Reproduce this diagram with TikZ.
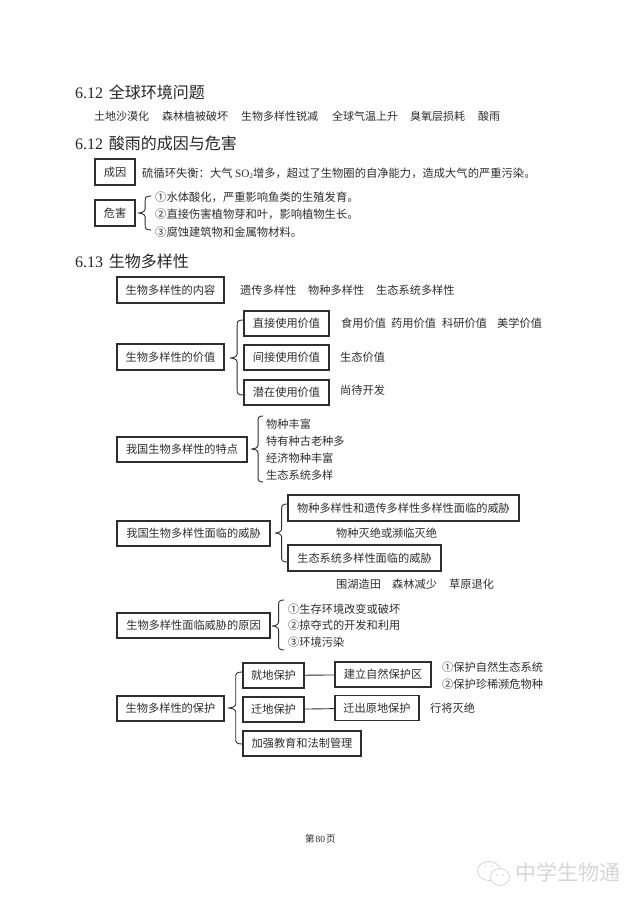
\documentclass[tikz,border=0pt]{standalone}
\usepackage{fontspec}
\setmainfont{Noto Sans CJK SC}
\newfontfamily\lat{Liberation Serif}
\definecolor{ink}{gray}{0.18}
\definecolor{wm}{gray}{0.84}
\newcommand{\sz}[1]{\fontsize{#1}{#1}\selectfont}
% \curly{tip x}{mid y}{top y}{bottom y}{end x}
\newcommand{\curly}[5]{%
  \draw[bracepath] (#5,#3) .. controls ({#1+0.55*(#5-#1)},#3) and ({#1+0.55*(#5-#1)},{#3+2}) .. ({#1+0.55*(#5-#1)},{#3+6})
    -- ({#1+0.55*(#5-#1)},{#2-4}) .. controls ({#1+0.55*(#5-#1)},{#2-1}) and ({#1+0.2*(#5-#1)},#2) .. (#1,#2)
    .. controls ({#1+0.2*(#5-#1)},#2) and ({#1+0.55*(#5-#1)},{#2+1}) .. ({#1+0.55*(#5-#1)},{#2+4})
    -- ({#1+0.55*(#5-#1)},{#4-6}) .. controls ({#1+0.55*(#5-#1)},{#4-2}) and ({#1+0.55*(#5-#1)},#4) .. (#5,#4);}
\tikzset{
  bx/.style={draw=ink,line width=1.05pt,inner sep=0pt,text=ink,font=\sz{11.2},align=center,text height=9.9pt,text depth=1.3pt},
  lbl/.style={anchor=west,inner sep=0pt,text=ink,font=\sz{11.2},text height=9.9pt,text depth=1.3pt},
  lbls/.style={lbl,font=\sz{11},text height=9.7pt,text depth=1.3pt},
  head/.style={anchor=west,inner sep=0pt,text=black!85,font=\sz{16},text height=14pt,text depth=2pt},
  bracepath/.style={draw=ink,line width=.9pt,line cap=round},
  link/.style={draw=ink,line width=.9pt},
  wmark/.style={draw=wm,line width=.8pt,fill=white}
}
\begin{document}
\begin{tikzpicture}[x=1pt,y=-1pt]
\useasboundingbox[fill=white] (0,0) rectangle (640,905);

% headings
\node[head] (h1) at (75,92) {{\lat 6.12}\hspace{2pt} 全球环境问题};
\node[head] (h2) at (75,143) {{\lat 6.12}\hspace{2pt} 酸雨的成因与危害};
\node[head] (h3) at (75,261) {{\lat 6.13}\hspace{2pt} 生物多样性};

% global problems
\node[lbls] (g1) at (94,116) {土地沙漠化};
\node[lbls] (g2) at (162,116) {森林植被破坏};
\node[lbls] (g3) at (241,116) {生物多样性锐减};
\node[lbls] (g4) at (332,116) {全球气温上升};
\node[lbls] (g5) at (410,116) {臭氧层损耗};
\node[lbls] (g6) at (478,116) {酸雨};

% acid rain
\node[bx,minimum width=40pt,minimum height=26pt] (cy) at (115,172) {成因};
\node[bx,minimum width=40pt,minimum height=26pt] (wh) at (115,213) {危害};
\node[lbl,font=\sz{11.3}] (cyt) at (142,173) {硫循环失衡：大气 {\lat SO\raisebox{-.2ex}{\sz{7}2}}增多，超过了生物圈的自净能力，造成大气的严重污染。};
\curly{138}{213}{196}{230}{151}
\node[lbl,font=\sz{11.3}] (wh1) at (155,197) {①水体酸化，严重影响鱼类的生殖发育。};
\node[lbl,font=\sz{11.3}] (wh2) at (155,214) {②直接伤害植物芽和叶，影响植物生长。};
\node[lbl,font=\sz{11.3}] (wh3) at (155,232) {③腐蚀建筑物和金属物材料。};

% content
\node[bx,minimum width=107pt,minimum height=26pt] (nr) at (170.5,290) {生物多样性的内容};
\node[lbl] (nr1) at (240,290) {遗传多样性};
\node[lbl] (nr2) at (308,290) {物种多样性};
\node[lbl] (nr3) at (376,290) {生态系统多样性};

% value
\node[bx,minimum width=107pt,minimum height=26pt] (jz) at (170.5,357) {生物多样性的价值};
\node[bx,minimum width=85pt,minimum height=25pt] (zj) at (286.5,323.5) {直接使用价值};
\node[bx,minimum width=85pt,minimum height=25pt] (jj) at (286.5,357.5) {间接使用价值};
\node[bx,minimum width=85pt,minimum height=25pt] (qz) at (286.5,392.5) {潜在使用价值};
\curly{230}{358}{320}{395}{243}
\node[lbl] (zj1) at (341,323) {食用价值};
\node[lbl] (zj2) at (391,323) {药用价值};
\node[lbl] (zj3) at (442,323) {科研价值};
\node[lbl] (zj4) at (497,323) {美学价值};
\node[lbl] (jj1) at (340,357) {生态价值};
\node[lbl] (qz1) at (340,390) {尚待开发};

% features
\node[bx,minimum width=130pt,minimum height=25pt] (td) at (182,449.5) {我国生物多样性的特点};
\curly{252}{449}{416}{482}{263}
\node[lbl] (td1) at (266,424) {物种丰富};
\node[lbl] (td2) at (266,441) {特有种古老种多};
\node[lbl] (td3) at (266,458) {经济物种丰富};
\node[lbl] (td4) at (266,475) {生态系统多样};

% threats
\node[bx,minimum width=153pt,minimum height=25pt] (wx) at (193.5,533.5) {我国生物多样性面临的威胁};
\node[bx,minimum width=231pt,minimum height=26pt] (wx1) at (403.5,508) {物种多样性和遗传多样性多样性面临的威胁};
\node[bx,minimum width=153pt,minimum height=26pt] (wx2) at (364.5,558) {生态系统多样性面临的威胁};
\curly{275}{533}{504}{562}{287}
\node[lbl] (wx1t) at (336,533) {物种灭绝或濒临灭绝};
\node[lbl] (wx2a) at (336,584) {围湖造田};
\node[lbl] (wx2b) at (392,584) {森林减少};
\node[lbl] (wx2c) at (449,584) {草原退化};

% causes
\node[bx,minimum width=153pt,minimum height=25pt] (yy) at (193.5,625.5) {生物多样性面临威胁的原因};
\curly{272}{626}{600}{650}{284}
\node[lbl] (yy1) at (288,609) {①生存环境改变或破坏};
\node[lbl] (yy2) at (288,625) {②掠夺式的开发和利用};
\node[lbl] (yy3) at (288,642) {③环境污染};

% protection
\node[bx,minimum width=107pt,minimum height=25pt] (bh) at (170.5,708.5) {生物多样性的保护};
\node[bx,minimum width=61pt,minimum height=25pt] (jd) at (273.5,675.5) {就地保护};
\node[bx,minimum width=61pt,minimum height=25pt] (qd) at (273.5,709.5) {迁地保护};
\node[bx,minimum width=118pt,minimum height=25pt] (jq) at (302,743.5) {加强教育和法制管理};
\node[bx,minimum width=96pt,minimum height=25pt] (jl) at (383,674.5) {建立自然保护区};
\node[bx,minimum width=84pt,minimum height=25pt] (qc) at (377,708) {迁出原地保护};
\curly{228}{708}{672}{744}{242}
\draw[link] (jd) -- (jl);
\draw[link] (qd) -- (qc);
\node[lbl] (jl1) at (442,667) {①保护自然生态系统};
\node[lbl] (jl2) at (442,684) {②保护珍稀濒危物种};
\node[lbl] (qc1) at (430,708) {行将灭绝};

% footer
\node[lbl,font=\sz{9.5},text height=8.4pt,text depth=1.1pt] (pg) at (305,839) {第\hspace{1pt}{\lat 80}\hspace{1pt}页};

% watermark
\draw[wmark] (489,871) ellipse (11.5 and 9.5);
\draw[wmark] (500,877) ellipse (9.5 and 8.5);
\fill[wm] (485,866) circle (.9) (492,866) circle (.9) (497,875) circle (.8) (503,875) circle (.8);
\node[lbl,text=wm,font=\sz{21},text height=18.5pt,text depth=2.5pt] (wmt) at (515,872) {中学生物通};
\end{tikzpicture}
\end{document}
